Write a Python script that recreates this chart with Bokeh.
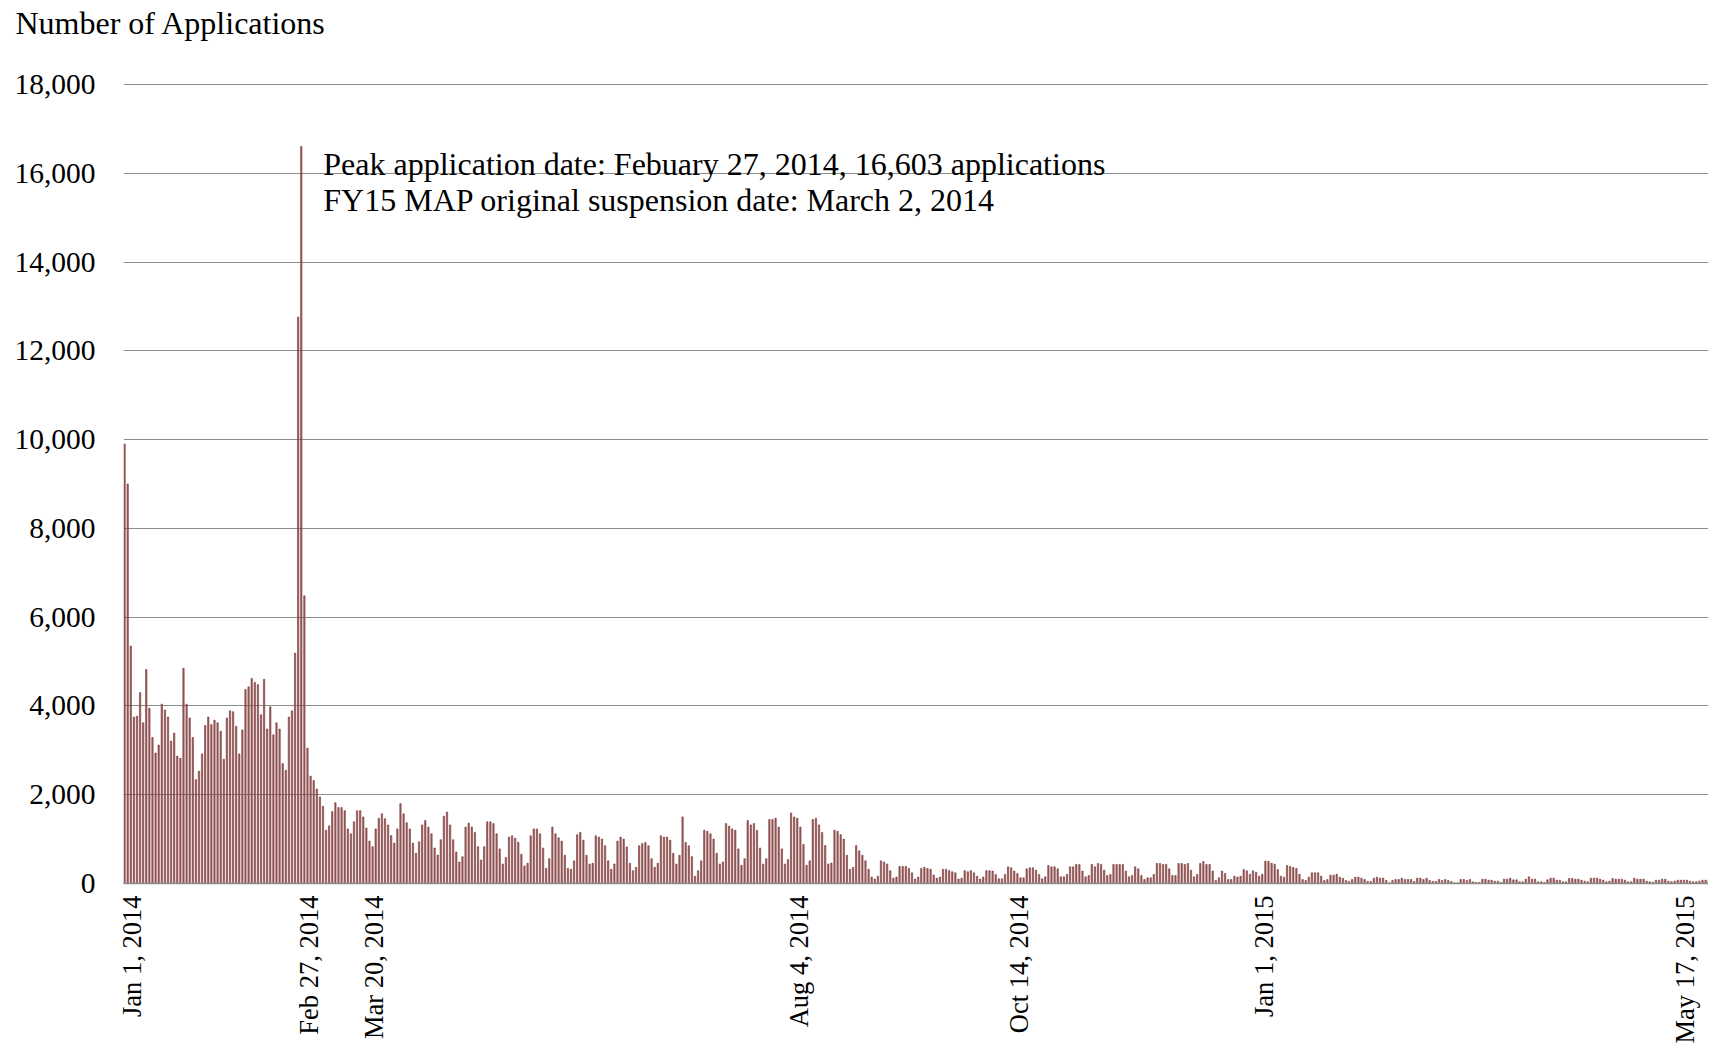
import math
import numpy as np
import pandas as pd
from bokeh.plotting import figure
from bokeh.models import Range1d, FixedTicker, NumeralTickFormatter, Label, LinearAxis
from bokeh.embed import file_html
from bokeh.resources import INLINE

# ---- daily number of applications, one list per month ----
apps_2014_01 = [9900, 9000, 5350, 3750, 3770, 4300, 3620, 4820, 3950, 3290, 2940, 3120, 4040, 3910, 3750, 3210,
                3390, 2870, 2820, 4850, 4040, 3730, 3290, 2340, 2530, 2920, 3560, 3750, 3580, 3680, 3620]
apps_2014_02 = [3430, 2800, 3730, 3890, 3870, 3540, 2920, 3460, 4370, 4430, 4620, 4530, 4480, 3800, 4600, 3480,
                3980, 3350, 3620, 3480, 2700, 2550, 3750, 3890, 5190, 12760, 16603, 6480]
apps_2014_03 = [3050, 2420, 2320, 2130, 1950, 1740, 1200, 1300, 1620, 1820, 1710, 1710, 1640, 1230, 1120, 1390,
                1640, 1640, 1500, 1250, 955, 830, 1230, 1470, 1570, 1460, 1320, 1080, 910, 1230, 1800]
apps_2014_04 = [1570, 1370, 1230, 910, 680, 940, 1320, 1420, 1270, 1120, 800, 640, 985, 1515, 1610, 1320,
                985, 710, 485, 605, 1270, 1360, 1270, 1150, 830, 530, 830, 1390, 1390, 1350]
apps_2014_05 = [1120, 780, 440, 585, 1045, 1075, 1020, 930, 660, 395, 455, 1075, 1230, 1230, 1120, 800,
                340, 560, 1270, 1120, 1030, 955, 635, 340, 320, 510, 1100, 1150, 975, 635, 440]
apps_2014_06 = [455, 1075, 1045, 1000, 850, 510, 320, 440, 955, 1045, 1000, 825, 455, 290, 365, 850,
                900, 925, 850, 560, 365, 455, 1075, 1045, 1045, 975, 680, 440, 635, 1500]
apps_2014_07 = [925, 850, 605, 165, 290, 510, 1200, 1175, 1120, 1000, 680, 440, 485, 1350, 1295, 1230,
                1200, 780, 410, 560, 1420, 1320, 1350, 1200, 800, 440, 560, 1440, 1440, 1470, 1270]
apps_2014_08 = [780, 440, 540, 1590, 1500, 1470, 1270, 880, 410, 510, 1440, 1470, 1320, 1150, 855, 440,
                460, 1200, 1175, 1100, 1000, 635, 320, 365, 855, 735, 635, 510, 320, 145, 100]
apps_2014_09 = [165, 510, 485, 440, 290, 120, 145, 385, 385, 385, 340, 240, 100, 145, 340, 365,
                340, 320, 190, 120, 145, 320, 320, 290, 265, 240, 100, 120, 290, 265]
apps_2014_10 = [290, 240, 165, 100, 145, 290, 290, 280, 205, 105, 105, 205, 375, 355, 280, 225,
                130, 130, 330, 355, 355, 300, 205, 105, 150, 405, 375, 375, 330, 150, 150]
apps_2014_11 = [205, 375, 375, 430, 430, 280, 150, 180, 430, 375, 450, 430, 300, 180, 205, 430,
                430, 430, 430, 280, 150, 180, 375, 330, 180, 90, 130, 130, 205, 450]
apps_2014_12 = [450, 430, 430, 330, 180, 180, 450, 450, 430, 450, 300, 150, 205, 450, 495, 430,
                430, 280, 70, 130, 280, 225, 90, 90, 165, 145, 165, 315, 285, 210, 285]
apps_2015_01 = [255, 165, 210, 503, 503, 458, 435, 315, 165, 143, 405, 383, 360, 338, 210, 90,
                68, 143, 240, 240, 240, 165, 68, 90, 188, 188, 210, 143, 120, 68, 45]
apps_2015_02 = [90, 143, 143, 120, 90, 45, 45, 120, 143, 120, 120, 68, 15, 68, 90, 90,
                120, 90, 90, 90, 45, 120, 120, 90, 120, 68, 45, 45]
apps_2015_03 = [90, 68, 90, 68, 45, 15, 15, 90, 90, 68, 90, 38, 23, 23, 98, 98,
                75, 75, 53, 53, 23, 98, 98, 120, 83, 83, 38, 38, 98, 150, 98]
apps_2015_04 = [98, 38, 38, 23, 83, 120, 120, 75, 75, 38, 38, 113, 113, 98, 98, 75,
                53, 38, 120, 120, 120, 98, 75, 38, 53, 113, 98, 98, 98, 75]
apps_2015_05 = [38, 38, 120, 98, 98, 98, 53, 38, 30, 75, 75, 98, 98, 53, 38, 53,
                75, 75, 75, 75, 53, 38, 38, 53, 75, 75, 75, 38, 38, 53, 53]

monthly = [apps_2014_01, apps_2014_02, apps_2014_03, apps_2014_04, apps_2014_05, apps_2014_06,
           apps_2014_07, apps_2014_08, apps_2014_09, apps_2014_10, apps_2014_11, apps_2014_12,
           apps_2015_01, apps_2015_02, apps_2015_03, apps_2015_04, apps_2015_05]
month_lengths = [31, 28, 31, 30, 31, 30, 31, 31, 30, 31, 30, 31, 31, 28, 31, 30, 31]
for m, n in zip(monthly, month_lengths):
    assert len(m) == n, (len(m), n)

applications = [v for m in monthly for v in m]
dates = pd.date_range("2014-01-01", periods=len(applications), freq="D")
x = np.arange(len(applications))

# ---- axis labels / texts ----
tick_dates = ["2014-01-01", "2014-02-27", "2014-03-20", "2014-08-04", "2014-10-14", "2015-01-01", "2015-05-17"]
tick_labels = ["Jan 1, 2014", "Feb 27, 2014", "Mar 20, 2014", "Aug 4, 2014", "Oct 14, 2014", "Jan 1, 2015",
               "May 17, 2015"]
y_ticks = [0, 2000, 4000, 6000, 8000, 10000, 12000, 14000, 16000, 18000]
title_text = "Number of Applications"
note_lines = ["Peak application date: Febuary 27, 2014, 16,603 applications",
              "FY15 MAP original suspension date: March 2, 2014"]

FONT = "Liberation Serif"
LABEL_SHIFT = 2.5  # date labels sit slightly right of their bar in the original
X_START = -0.35
X_END = X_START + 1585 / 3.1

p = figure(width=1708, height=1046, output_backend="svg", toolbar_location=None,
           x_range=Range1d(X_START, X_END), y_range=Range1d(0, 18022),
           min_border_left=123, min_border_right=0, min_border_top=83, min_border_bottom=163,
           title=title_text)
p.outline_line_color = None
p.background_fill_color = "white"
p.border_fill_color = "white"

xa = p.below[0]   # the real date axis
ya = p.left[0]

# invisible spacer between the title and the plot area: one white tick, no label text
SPACER_TICK = 400
spacer = LinearAxis(ticker=FixedTicker(ticks=[SPACER_TICK]), major_tick_out=43, major_tick_in=0,
                    major_tick_line_color="white", minor_tick_line_color=None, axis_line_color=None,
                    major_label_standoff=0, major_label_text_font_size="1px",
                    major_label_overrides={SPACER_TICK: ""})
p.add_layout(spacer, "above")

p.title.text_font = FONT
p.title.text_font_size = "32px"
p.title.text_font_style = "normal"
p.title.text_color = "black"
p.title.align = "left"
p.title.offset = -108
p.title.standoff = 0

p.vbar(x=x, top=applications, width=0.45, bottom=0,
       fill_color="#a36a6a", line_color="#6b1d1d", line_width=0.5)

p.xgrid.visible = False
p.ygrid.grid_line_color = "#8c8c8c"
p.ygrid.grid_line_width = 1
p.ygrid.ticker = FixedTicker(ticks=y_ticks)

date_index = {d.strftime("%Y-%m-%d"): i for i, d in enumerate(dates)}
tick_pos = [date_index[d] + LABEL_SHIFT for d in tick_dates]

xa.ticker = FixedTicker(ticks=tick_pos)
xa.major_label_overrides = {pos: lab for pos, lab in zip(tick_pos, tick_labels)}
xa.major_label_orientation = math.pi / 2
xa.major_label_text_font = FONT
xa.major_label_text_font_size = "26.5px"
xa.major_label_text_color = "black"
xa.major_label_standoff = 12
xa.major_tick_line_color = None
xa.minor_tick_line_color = None
xa.major_tick_out = 0
xa.axis_line_color = "#8c8c8c"
xa.axis_line_width = 1.5

ya.ticker = FixedTicker(ticks=y_ticks)
ya.formatter = NumeralTickFormatter(format="0,0")
ya.major_label_text_font = FONT
ya.major_label_text_font_size = "29.5px"
ya.major_label_text_color = "black"
ya.major_label_standoff = 28
ya.axis_line_color = None
ya.major_tick_line_color = None
ya.minor_tick_line_color = None
ya.major_tick_out = 0

peak_i = int(np.argmax(applications))
peak_v = applications[peak_i]
for k, line in enumerate(note_lines):
    p.add_layout(Label(x=peak_i, y=peak_v, x_offset=22, y_offset=-18 - 36 * k, text=line,
                       text_font=FONT, text_font_size="32px", text_color="black",
                       text_baseline="alphabetic"))

open("out.html", "w").write(file_html(p, INLINE))
